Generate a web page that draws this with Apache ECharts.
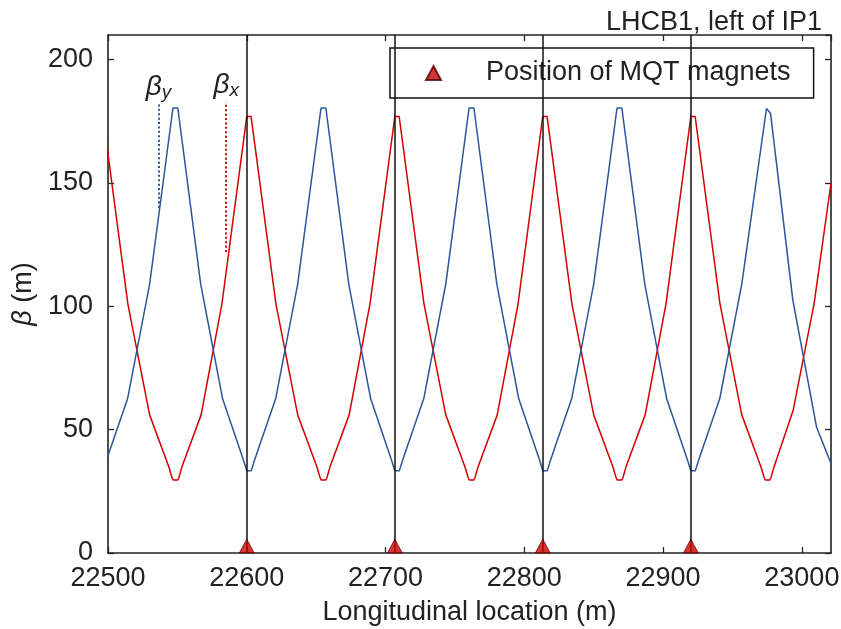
<!DOCTYPE html>
<html>
<head>
<meta charset="utf-8">
<script src="https://cdn.jsdelivr.net/npm/echarts@6/dist/echarts.min.js"></script>
<style>html,body{margin:0;padding:0;background:#fff}#c{width:841px;height:629px}</style>
</head>
<body>
<div id="c"></div>
<script>
// ---- data ----
const chartTitle = 'LHCB1, left of IP1';
const xName = 'Longitudinal location (m)';
const xTicks = [22500, 22600, 22700, 22800, 22900, 23000];
const yTicks = [0, 50, 100, 150, 200];
const xRange = [22500, 23021];
const yRange = [0, 210];

// horizontal beta function beta_x (m) vs s (m)
const betaX = [
[22496.4,177],[22514.3,101],[22530.0,56],[22543.8,35],[22546.1,30.6],[22546.9,29.6],[22550.3,29.6],[22551.1,30.6],[22553.3,35],[22567.1,56],[22582.1,101],
[22600.0,177],[22603.1,177],[22621.0,101],[22636.7,56],[22650.5,35],[22652.8,30.6],[22653.6,29.6],[22657.0,29.6],[22657.8,30.6],[22660.0,35],[22673.8,56],[22688.8,101],
[22706.7,177],[22709.8,177],[22727.7,101],[22743.4,56],[22757.2,35],[22759.5,30.6],[22760.3,29.6],[22763.7,29.6],[22764.5,30.6],[22766.7,35],[22780.5,56],[22795.5,101],
[22813.3,177],[22816.4,177],[22834.3,101],[22850.0,56],[22863.8,35],[22866.1,30.6],[22866.9,29.6],[22870.3,29.6],[22871.1,30.6],[22873.3,35],[22887.1,56],[22902.1,101],
[22920.0,177],[22923.1,177],[22941.0,101],[22956.7,56],[22970.5,35],[22972.8,30.6],[22973.6,29.6],[22977.0,29.6],[22977.8,30.6],[22980.0,35],[22993.8,58],[23008.8,101],[23021,150]
];
// vertical beta function beta_y (m) vs s (m)
const betaY = [
[22496.5,33.3],[22498.8,37.5],[22514.1,62.5],[22530.0,109],[22546.8,180.4],[22550.3,180.4],[22566.8,109],[22582.6,62.5],[22597.7,37.5],
[22600.0,33.3],[22603.2,33.3],[22605.5,37.5],[22620.8,62.5],[22636.7,109],[22653.5,180.4],[22657.0,180.4],[22673.5,109],[22689.3,62.5],[22704.4,37.5],
[22706.7,33.3],[22709.9,33.3],[22712.2,37.5],[22727.5,62.5],[22743.4,109],[22760.2,180.4],[22763.7,180.4],[22780.2,109],[22796.0,62.5],[22811.1,37.5],
[22813.3,33.3],[22816.5,33.3],[22818.8,37.5],[22834.1,62.5],[22850.0,109],[22866.8,180.4],[22870.3,180.4],[22886.8,109],[22902.6,62.5],[22917.7,37.5],
[22920.0,33.3],[22923.2,33.3],[22925.5,37.5],[22940.8,62.5],[22956.7,109],[22974.5,180.2],[22977.4,178.3],[22993.5,102.5],[23010.6,51],[23021,36.3]
];
// MQT magnet positions (m)
const mqtPositions = [22600, 22706.7, 22813.3, 22920];
const mqtName = 'Position of MQT magnets';
// curve annotation lines: [s, betaLow, betaHigh]
const labelLineY = [22536.4, 140, 182];
const labelLineX = [22585.2, 122, 182.7];

// ---- styling ----
const FONT = 'Liberation Sans';
const FS = 27;
const TXT = '#222';
const RED = '#d40000';
const BLUE = '#2b559b';
const FRAME = '#222';

const chart = echarts.init(document.getElementById('c'), null, {renderer: 'canvas'});

function axisCommon() {
  return {
    axisLine: {show: true, onZero: false, lineStyle: {color: FRAME, width: 1.6}},
    axisTick: {show: true, inside: true, length: 6, lineStyle: {color: FRAME, width: 1.3}},
    splitLine: {show: false},
    axisLabel: {show: false}
  };
}

const richLbl = {
  b: {fontFamily: FONT, fontSize: 28, fontStyle: 'italic', color: TXT, lineHeight: 30},
  s: {fontFamily: FONT, fontSize: 19, fontStyle: 'italic', color: TXT, verticalAlign: 'bottom', lineHeight: 30}
};

const option = {
  animation: false,
  backgroundColor: '#fff',
  title: {
    text: chartTitle, right: 14, top: 4,
    textStyle: {fontFamily: FONT, fontSize: FS, fontWeight: 'normal', color: TXT}
  },
  grid: {left: 108, right: 10, top: 35, bottom: 76, containLabel: false, outerBoundsMode: 'none'},
  legend: {
    left: 390, top: 48,
    data: [mqtName],
    itemWidth: 15, itemHeight: 14,
    padding: [10, 23, 10, 35],
    borderColor: '#111', borderWidth: 1.5, borderRadius: 0,
    backgroundColor: '#fff',
    selectedMode: false,
    textStyle: {fontFamily: FONT, fontSize: FS, color: TXT, lineHeight: 30, padding: [0, 0, 0, 40]}
  },
  xAxis: [
    Object.assign(axisCommon(), {
      type: 'value', position: 'bottom',
      min: xRange[0], max: xRange[1], interval: 100,
      name: xName, nameLocation: 'middle', nameGap: 46,
      nameTextStyle: {fontFamily: FONT, fontSize: FS, color: TXT},
      axisLabel: {show: true, margin: 12, showMaxLabel: false, fontFamily: FONT, fontSize: FS, color: TXT,
        formatter: v => (xTicks.indexOf(v) >= 0 ? String(v) : '')}
    }),
    Object.assign(axisCommon(), {
      type: 'value', position: 'top',
      min: xRange[0], max: xRange[1], interval: 100
    })
  ],
  yAxis: [
    Object.assign(axisCommon(), {
      type: 'value', position: 'left',
      min: yRange[0], max: yRange[1], interval: 50,
      name: '{b|β} (m)', nameLocation: 'middle', nameGap: 62,
      nameTextStyle: {fontFamily: FONT, fontSize: FS, color: TXT, rich: {b: {fontFamily: FONT, fontSize: FS, fontStyle: 'italic', color: TXT}}},
      axisLabel: {show: true, margin: 15, showMaxLabel: false, fontFamily: FONT, fontSize: FS, color: TXT,
        formatter: v => (yTicks.indexOf(v) >= 0 ? String(v) : '')}
    }),
    Object.assign(axisCommon(), {
      type: 'value', position: 'right',
      min: yRange[0], max: yRange[1], interval: 50
    })
  ],
  series: [
    {
      type: 'line', name: 'betaX', data: betaX, showSymbol: false, symbol: 'none',
      lineStyle: {color: RED, width: 1.5}, z: 2, silent: true,
      markLine: {
        silent: true, symbol: 'none',
        lineStyle: {color: RED, width: 2, type: [2, 2.4]},
        label: {show: true, position: 'end', distance: 2, formatter: '{b|β}{s|x}', rich: richLbl},
        data: [[{coord: [labelLineX[0], labelLineX[1]]}, {coord: [labelLineX[0], labelLineX[2]]}]]
      }
    },
    {
      type: 'line', name: 'betaY', data: betaY, showSymbol: false, symbol: 'none',
      lineStyle: {color: BLUE, width: 1.5}, z: 2, silent: true,
      markLine: {
        silent: true, symbol: 'none',
        lineStyle: {color: BLUE, width: 2, type: [2, 2.4]},
        label: {show: true, position: 'end', distance: 2, formatter: '{b|β}{s|y}', rich: richLbl},
        data: [[{coord: [labelLineY[0], labelLineY[1]]}, {coord: [labelLineY[0], labelLineY[2]]}]]
      }
    },
    {
      type: 'line', name: 'mqtLines', data: [], z: 3, silent: true,
      markLine: {
        silent: true, symbol: 'none', animation: false,
        lineStyle: {color: '#111', width: 1.5, type: 'solid'},
        label: {show: false},
        data: mqtPositions.map(v => ({xAxis: v}))
      }
    },
    {
      type: 'scatter', name: mqtName,
      data: mqtPositions.map(v => [v, 0]),
      symbol: 'triangle', symbolSize: [15, 14], symbolOffset: [0, -7],
      itemStyle: {color: '#cc0000', borderColor: '#4a0000', borderWidth: 0.8},
      z: 6, clip: false, silent: true
    }
  ]
};
chart.setOption(option);
</script>
</body>
</html>
